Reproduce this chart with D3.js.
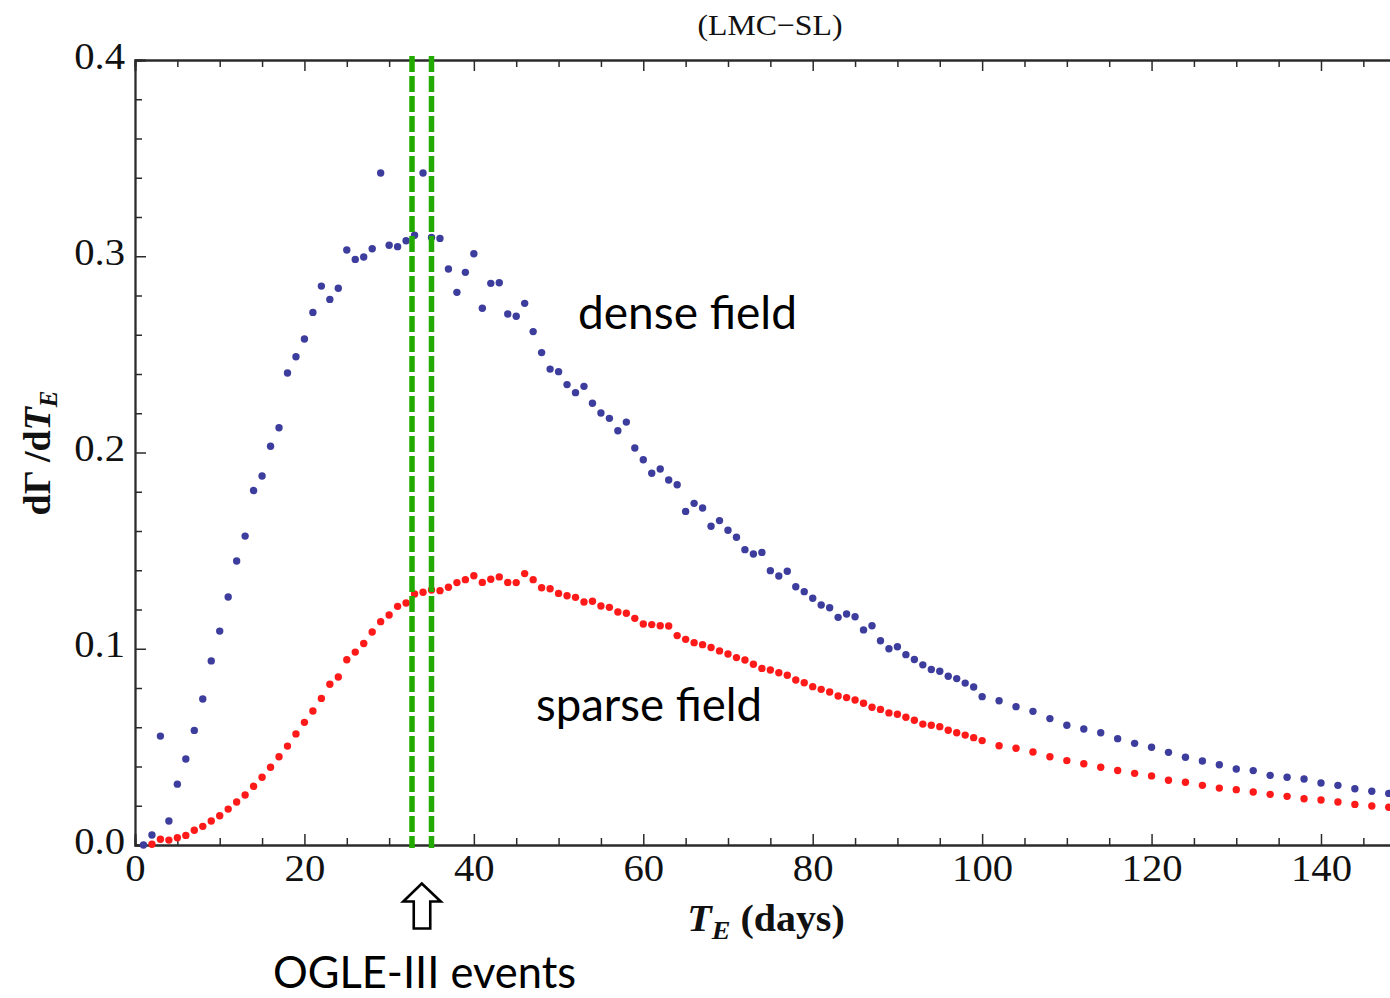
<!DOCTYPE html>
<html>
<head>
<meta charset="utf-8">
<script src="https://cdn.jsdelivr.net/npm/d3@7"></script>
<style>
  html, body { margin: 0; padding: 0; background: #ffffff; }
  svg { display: block; }
</style>
</head>
<body>
<svg id="chart" width="1390" height="998"></svg>
<script>
// Einstein time (days) at which each rate was evaluated
const tE = [
  1, 2, 3, 4, 5, 6, 7, 8, 9, 10, 11, 12, 13, 14, 15, 16, 17, 18, 19, 20,
  21, 22, 23, 24, 25, 26, 27, 28, 29, 30, 31, 32, 33, 34, 35, 36, 37, 38, 39, 40,
  41, 42, 43, 44, 45, 46, 47, 48, 49, 50, 51, 52, 53, 54, 55, 56, 57, 58, 59, 60,
  61, 62, 63, 64, 65, 66, 67, 68, 69, 70, 71, 72, 73, 74, 75, 76, 77, 78, 79, 80,
  81, 82, 83, 84, 85, 86, 87, 88, 89, 90, 91, 92, 93, 94, 95, 96, 97, 98, 99, 100,
  102, 104, 106, 108, 110, 112, 114, 116, 118, 120, 122, 124, 126, 128, 130,
  132, 134, 136, 138, 140, 142, 144, 146, 148
];

// dΓ/dT_E, dense field
const denseRate = [
  0.0000, 0.0051, 0.0555, 0.0122, 0.0310, 0.0438, 0.0584, 0.0744, 0.0938, 0.1090,
  0.1264, 0.1447, 0.1574, 0.1806, 0.1880, 0.2032, 0.2126, 0.2405, 0.2488, 0.2578,
  0.2714, 0.2848, 0.2780, 0.2837, 0.3032, 0.2984, 0.2996, 0.3038, 0.3424, 0.3056,
  0.3049, 0.3079, 0.3107, 0.3424, 0.3096, 0.3091, 0.2935, 0.2816, 0.2918, 0.3013,
  0.2735, 0.2862, 0.2865, 0.2706, 0.2694, 0.2760, 0.2616, 0.2509, 0.2425, 0.2412,
  0.2346, 0.2305, 0.2337, 0.2251, 0.2201, 0.2174, 0.2111, 0.2155, 0.2023, 0.1963,
  0.1894, 0.1916, 0.1860, 0.1836, 0.1700, 0.1741, 0.1717, 0.1624, 0.1653, 0.1604,
  0.1568, 0.1505, 0.1483, 0.1491, 0.1398, 0.1371, 0.1395, 0.1316, 0.1291, 0.1257,
  0.1223, 0.1209, 0.1160, 0.1177, 0.1163, 0.1096, 0.1117, 0.1041, 0.1000, 0.1010,
  0.0970, 0.0945, 0.0918, 0.0894, 0.0885, 0.0860, 0.0848, 0.0825, 0.0805, 0.0756,
  0.0735, 0.0705, 0.0681, 0.0644, 0.0610, 0.0591, 0.0572, 0.0542, 0.0518, 0.0498,
  0.0472, 0.0447, 0.0428, 0.0409, 0.0387, 0.0379, 0.0355, 0.0345, 0.0336, 0.0316,
  0.0304, 0.0287, 0.0274, 0.0263
];

// dΓ/dT_E, sparse field (no value at the first time step)
const sparseRate = [
  null,   0.0004, 0.0029, 0.0025, 0.0037, 0.0049, 0.0075, 0.0095, 0.0122, 0.0149,
  0.0183, 0.0219, 0.0255, 0.0299, 0.0345, 0.0396, 0.0450, 0.0504, 0.0566, 0.0625,
  0.0683, 0.0747, 0.0819, 0.0856, 0.0944, 0.0983, 0.1027, 0.1085, 0.1138, 0.1172,
  0.1216, 0.1233, 0.1279, 0.1288, 0.1299, 0.1296, 0.1313, 0.1337, 0.1352, 0.1372,
  0.1338, 0.1354, 0.1366, 0.1338, 0.1337, 0.1383, 0.1352, 0.1311, 0.1306, 0.1282,
  0.1270, 0.1262, 0.1238, 0.1242, 0.1218, 0.1211, 0.1187, 0.1181, 0.1155, 0.1126,
  0.1123, 0.1117, 0.1116, 0.1067, 0.1048, 0.1031, 0.1021, 0.1006, 0.0989, 0.0973,
  0.0955, 0.0943, 0.0921, 0.0900, 0.0892, 0.0878, 0.0865, 0.0841, 0.0827, 0.0807,
  0.0793, 0.0780, 0.0759, 0.0751, 0.0739, 0.0722, 0.0702, 0.0691, 0.0673, 0.0666,
  0.0651, 0.0636, 0.0616, 0.0610, 0.0603, 0.0585, 0.0572, 0.0560, 0.0547, 0.0532,
  0.0506, 0.0493, 0.0474, 0.0450, 0.0430, 0.0414, 0.0396, 0.0380, 0.0365, 0.0352,
  0.0330, 0.0320, 0.0304, 0.0290, 0.0282, 0.0270, 0.0258, 0.0248, 0.0236, 0.0229,
  0.0219, 0.0207, 0.0199, 0.0192
];

// Durations of the observed OGLE-III events (days)
const ogleEvents = [32.7, 35.0];

const xMajorTicks = [0, 20, 40, 60, 80, 100, 120, 140];
const xMinorTicks = [5, 10, 15, 25, 30, 35, 45, 50, 55, 65, 70, 75, 85, 90, 95,
                     105, 110, 115, 125, 130, 135, 145, 150];
const yMajorTicks = [0.0, 0.1, 0.2, 0.3, 0.4];
const yMinorTicks = [0.02, 0.04, 0.06, 0.08, 0.12, 0.14, 0.16, 0.18,
                     0.22, 0.24, 0.26, 0.28, 0.32, 0.34, 0.36, 0.38];

const svg = d3.select("#chart");
const W = 1390, H = 998;
svg.append("rect").attr("width", W).attr("height", H).attr("fill", "#ffffff");

const plot = { left: 135, top: 60, bottom: 845, right: 1405.7 };

const x = d3.scaleLinear().domain([0, 150]).range([plot.left, plot.right]);
const y = d3.scaleLinear().domain([0, 0.4]).range([plot.bottom, plot.top]);

const serif = "'Liberation Serif', 'Times New Roman', serif";
const sans = "Lato, 'Open Sans', sans-serif";
const axisColor = "#2b2b2b";
const stretch = 1.1;

// ---- frame ticks ----
function styleAxis(g) {
  g.select(".domain").attr("stroke", axisColor).attr("stroke-width", 1.8);
  g.selectAll(".tick line").attr("stroke", axisColor).attr("stroke-width", 1.5);
}

// minor ticks
svg.append("g").attr("transform", `translate(0,${plot.bottom})`)
  .call(d3.axisBottom(x).tickValues(xMinorTicks).tickSize(-7).tickFormat(""))
  .call(styleAxis);
svg.append("g").attr("transform", `translate(0,${plot.top})`)
  .call(d3.axisTop(x).tickValues(xMinorTicks).tickSize(-7).tickFormat(""))
  .call(styleAxis);
svg.append("g").attr("transform", `translate(${plot.left},0)`)
  .call(d3.axisLeft(y).tickValues(yMinorTicks).tickSize(-7).tickFormat(""))
  .call(styleAxis);

// major ticks with labels
const xAxis = svg.append("g").attr("transform", `translate(0,${plot.bottom})`)
  .call(d3.axisBottom(x).tickValues(xMajorTicks).tickSize(-11).tickPadding(10)
    .tickFormat(d3.format("d")))
  .call(styleAxis);
xAxis.selectAll(".tick text")
  .attr("font-family", serif).attr("font-size", 37).attr("fill", "#111")
  .attr("transform", `scale(${stretch},1)`);

svg.append("g").attr("transform", `translate(0,${plot.top})`)
  .call(d3.axisTop(x).tickValues(xMajorTicks).tickSize(-11).tickFormat(""))
  .call(styleAxis);

const yAxis = svg.append("g").attr("transform", `translate(${plot.left},0)`)
  .call(d3.axisLeft(y).tickValues(yMajorTicks).tickSize(-11).tickPadding(9)
    .tickFormat(d3.format(".1f")))
  .call(styleAxis);
yAxis.selectAll(".tick text")
  .attr("font-family", serif).attr("font-size", 37).attr("fill", "#111")
  .attr("dy", "0.22em")
  .attr("transform", `scale(${stretch},1)`);

// ---- data points ----
const densePts = tE.map((t, i) => ({ t, v: denseRate[i] }));
const sparsePts = tE.map((t, i) => ({ t, v: sparseRate[i] })).filter(d => d.v !== null);

svg.append("g").selectAll("circle").data(densePts).join("circle")
  .attr("cx", d => x(d.t)).attr("cy", d => y(d.v)).attr("r", 3.7)
  .attr("fill", "#3d3d9e");

svg.append("g").selectAll("circle").data(sparsePts).join("circle")
  .attr("cx", d => x(d.t)).attr("cy", d => y(d.v)).attr("r", 3.7)
  .attr("fill", "#ff1a1a");

// ---- OGLE-III event markers ----
svg.append("g").selectAll("line").data(ogleEvents).join("line")
  .attr("x1", d => x(d)).attr("x2", d => x(d))
  .attr("y1", y(0.4) - 4).attr("y2", y(0) + 3)
  .attr("stroke", "#22aa00").attr("stroke-width", 5.5)
  .attr("stroke-dasharray", "16,4");

// hollow arrow pointing at the event durations
const ax = x(d3.mean(ogleEvents));
const arrow = d3.path();
arrow.moveTo(ax, 883.5);
arrow.lineTo(ax + 19, 901.5);
arrow.lineTo(ax + 8.5, 901.5);
arrow.lineTo(ax + 8.5, 928.5);
arrow.lineTo(ax - 8, 928.5);
arrow.lineTo(ax - 8, 901.5);
arrow.lineTo(ax - 18.5, 901.5);
arrow.closePath();
svg.append("path").attr("d", arrow.toString())
  .attr("fill", "#ffffff").attr("stroke", "#000").attr("stroke-width", 2.6)
  .attr("stroke-linejoin", "miter");

// ---- titles and labels ----
svg.append("text")
  .attr("transform", `translate(770,35) scale(1.06,1)`)
  .attr("text-anchor", "middle")
  .attr("font-family", serif).attr("font-size", 30).attr("fill", "#111")
  .text("(LMC\u2212SL)");

const xLabel = svg.append("text")
  .attr("transform", `translate(766,931) scale(1.08,1)`)
  .attr("text-anchor", "middle")
  .attr("font-family", serif).attr("font-size", 37).attr("font-weight", "bold")
  .attr("fill", "#111");
xLabel.append("tspan").attr("font-style", "italic").text("T");
xLabel.append("tspan").attr("font-style", "italic").attr("font-size", 26)
  .attr("dy", 8).text("E");
xLabel.append("tspan").attr("dy", -8).text(" (days)");

const yLabel = svg.append("text")
  .attr("transform", `translate(50,453) rotate(-90)`)
  .attr("text-anchor", "middle")
  .attr("font-family", serif).attr("font-size", 38).attr("font-weight", "bold")
  .attr("fill", "#111");
yLabel.append("tspan").text("d\u0393 /d");
yLabel.append("tspan").attr("font-style", "italic").text("T");
yLabel.append("tspan").attr("font-style", "italic").attr("font-size", 25)
  .attr("dy", 7).text("E");

// field annotations
svg.append("text").attr("x", 578).attr("y", 329)
  .attr("font-family", sans).attr("font-size", 46).attr("fill", "#000")
  .attr("textLength", 219).attr("lengthAdjust", "spacingAndGlyphs")
  .text("dense field");

svg.append("text").attr("x", 536).attr("y", 721)
  .attr("font-family", sans).attr("font-size", 46).attr("fill", "#000")
  .attr("textLength", 226).attr("lengthAdjust", "spacingAndGlyphs")
  .text("sparse field");

svg.append("text").attr("x", 273).attr("y", 988)
  .attr("font-family", sans).attr("font-size", 45).attr("fill", "#000")
  .attr("textLength", 303).attr("lengthAdjust", "spacingAndGlyphs")
  .text("OGLE-III events");
</script>
</body>
</html>
